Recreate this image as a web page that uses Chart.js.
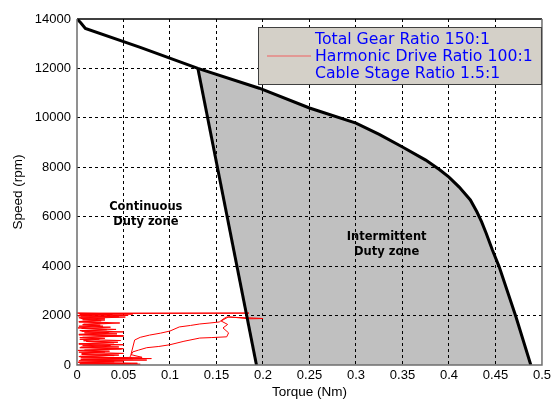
<!DOCTYPE html>
<html>
<head>
<meta charset="utf-8">
<script src="https://cdn.jsdelivr.net/npm/chart.js@4/dist/chart.umd.min.js"></script>
<style>
  html, body { margin: 0; padding: 0; background: #fff; }
  #wrap { width: 554px; height: 402px; }
</style>
</head>
<body>
<div id="wrap"><canvas id="c" width="554" height="402"></canvas></div>
<script>
// --- data ---
const outerTorque = [0, 0.004, 0.009, 0.068, 0.13, 0.196, 0.25, 0.30, 0.325, 0.35, 0.375, 0.39, 0.40, 0.411, 0.423, 0.43, 0.435, 0.44, 0.4467, 0.454, 0.472, 0.488];
const outerSpeed  = [14000, 13850, 13620, 12850, 12000, 11200, 10400, 9790, 9330, 8820, 8290, 7900, 7600, 7200, 6680, 6200, 5800, 5330, 4650, 3970, 1950, 0];

const innerTorque = [0.13, 0.193];
const innerSpeed  = [12000, 0];

// measured duty cycle trace (red)
const traceTorque = [
  0.0, 0.068, 0.003, 0.065, 0.005, 0.04, 0.002, 0.075, 0.006, 0.08, 0.004, 0.07,
  0.058, 0.062, 0.068, 0.078, 0.09, 0.10, 0.11, 0.122, 0.132, 0.143, 0.153, 0.158, 0.161,
  0.19, 0.2, 0.185, 0.163, 0.155, 0.162, 0.157, 0.163, 0.161,
  0.145, 0.132, 0.115, 0.1, 0.088, 0.075, 0.066, 0.06, 0.057, 0.06,
  0.003, 0.04, 0.005, 0.05, 0.002, 0.035, 0.008, 0.048, 0.003, 0.045, 0.006, 0.05,
  0.002, 0.04, 0.01, 0.047, 0.003, 0.03, 0.006, 0.05, 0.002, 0.043, 0.008, 0.05,
  0.003, 0.032, 0.005, 0.036, 0.002, 0.025, 0.007, 0.033, 0.002, 0.026, 0.006, 0.03,
  0.002, 0.045, 0.004, 0.055, 0.003, 0.06, 0.0, 0.185,
  0.002, 0.038, 0.001, 0.052, 0.004, 0.03, 0.002, 0.046, 0.006, 0.028, 0.001, 0.042,
  0.005, 0.034, 0.002, 0.05, 0.003, 0.024, 0.007, 0.044, 0.002, 0.036, 0.004, 0.05,
  0.001, 0.03, 0.005, 0.045, 0.002, 0.055, 0.004, 0.05, 0.001, 0.058, 0.003, 0.052
];
const traceSpeed = [
  0, 30, 50, 70, 100, 130, 170, 200, 230, 260, 290, 310,
  420, 1010, 1120, 1210, 1290, 1375, 1540, 1600, 1660, 1700, 1740, 1880, 1940,
  1900, 1880, 1870, 1950, 1780, 1640, 1500, 1300, 1140,
  1110, 1090, 960, 820, 750, 700, 600, 530, 330, 250,
  350, 380, 420, 470, 520, 560, 600, 650, 700, 730, 780, 820,
  860, 900, 950, 990, 1040, 1080, 1120, 1170, 1220, 1260, 1300, 1340,
  1390, 1430, 1480, 1530, 1570, 1610, 1650, 1700, 1740, 1790, 1830, 1870,
  1910, 1950, 1980, 2010, 2040, 2060, 2100, 2100,
  2080, 2040, 1990, 1940, 1880, 1820, 1760, 1700, 1630, 1570, 1500, 1440,
  1370, 1310, 1240, 1180, 1110, 1050, 980, 920, 850, 790, 720, 660,
  590, 530, 470, 400, 340, 280, 220, 160, 110, 60, 30, 10
];

const legendLines = ["Total Gear Ratio 150:1", "Harmonic Drive Ratio 100:1", "Cable Stage Ratio 1.5:1"];
const xTicks = [0, 0.05, 0.1, 0.15, 0.2, 0.25, 0.3, 0.35, 0.4, 0.45, 0.5];

const pts = (xs, ys) => xs.map((x, i) => ({ x, y: ys[i] }));

// shaded zone: inner line from the bottom up, then the outer envelope down
const k = outerTorque.indexOf(0.13);
const zone = pts(innerTorque.slice().reverse(), innerSpeed.slice().reverse())
  .concat(pts(outerTorque.slice(k), outerSpeed.slice(k)));

const FONT = "'Liberation Sans', Arial, sans-serif";
const WIDE = "'DejaVu Sans', Verdana, sans-serif";

// --- plugin: plot box, zone labels, legend ---
const decor = {
  id: "decor",
  afterDatasetsDraw(chart) {
    const { ctx, chartArea: a, scales: { x, y } } = chart;
    ctx.save();
    // box
    ctx.lineWidth = 1.5;
    ctx.strokeStyle = "#000";
    ctx.beginPath(); ctx.moveTo(a.left, a.top); ctx.lineTo(a.right, a.top); ctx.stroke();
    ctx.strokeStyle = "#6e6e6e";
    ctx.beginPath();
    ctx.moveTo(a.left, a.top); ctx.lineTo(a.left, a.bottom); ctx.lineTo(a.right, a.bottom); ctx.lineTo(a.right, a.top);
    ctx.stroke();

    // zone labels
    ctx.fillStyle = "#000";
    ctx.font = "bold 11.5px " + WIDE;
    ctx.textAlign = "center"; ctx.textBaseline = "middle";
    let cx = x.getPixelForValue(0.074), cy = y.getPixelForValue(6100);
    ctx.fillText("Continuous", cx, cy - 7);
    ctx.fillText("Duty zone", cx, cy + 8);
    cx = x.getPixelForValue(0.333); cy = y.getPixelForValue(4880);
    ctx.fillText("Intermittent", cx, cy - 7);
    ctx.fillText("Duty zone", cx, cy + 8);

    // legend box
    const lx = 258, ly = 27, lw = a.right - 258, lh = 58;
    ctx.fillStyle = "#d4d0c8";
    ctx.fillRect(lx, ly, lw, lh);
    ctx.lineWidth = 1;
    ctx.strokeStyle = "#404040";
    ctx.strokeRect(lx + 0.5, ly + 0.5, lw - 1, lh - 1);
    ctx.strokeStyle = "#f06060";
    ctx.beginPath(); ctx.moveTo(267, 56); ctx.lineTo(311, 56); ctx.stroke();
    ctx.fillStyle = "#0000ff";
    ctx.font = "15.7px " + WIDE;
    ctx.textAlign = "left";
    legendLines.forEach((t, i) => ctx.fillText(t, 315, 40 + i * 17));
    ctx.restore();
  }
};

const gridColor = ctx => (ctx.tick && (ctx.tick.value === 0 || ctx.tick.value === 14000 || ctx.tick.value === 0.5)) ? "rgba(0,0,0,0)" : "#000";

new Chart(document.getElementById("c"), {
  type: "line",
  data: {
    datasets: [
      { data: pts(outerTorque, outerSpeed), borderColor: "#000", borderWidth: 3, pointRadius: 0, tension: 0, order: 1 },
      { data: pts(innerTorque, innerSpeed), borderColor: "#000", borderWidth: 3, pointRadius: 0, tension: 0, order: 1 },
      { data: pts(traceTorque, traceSpeed), borderColor: "#ff0000", borderWidth: 1, pointRadius: 0, tension: 0, order: 2 },
      { data: zone, borderWidth: 0, borderColor: "rgba(0,0,0,0)", backgroundColor: "rgba(0,0,0,0.247)", fill: "shape", pointRadius: 0, tension: 0, order: 3 }
    ]
  },
  options: {
    responsive: false,
    animation: false,
    events: [],
    layout: { padding: { top: 19, right: 11, left: 0, bottom: 0 } },
    plugins: { legend: { display: false }, tooltip: { enabled: false } },
    scales: {
      x: {
        type: "linear", min: 0, max: 0.5,
        afterBuildTicks: s => { s.ticks = xTicks.map(v => ({ value: v })); },
        afterFit: s => { s.height = 37; },
        grid: { color: gridColor, lineWidth: 1, drawTicks: false },
        border: { display: false, dash: [3, 3] },
        ticks: { color: "#000", padding: 3, maxRotation: 0, autoSkip: false, font: { family: FONT, size: 13 },
                 callback: v => String(+v.toFixed(2)) },
        title: { display: true, text: "Torque (Nm)", color: "#000", font: { family: FONT, size: 13.5 }, padding: { top: 0, bottom: 2 } }
      },
      y: {
        min: 0, max: 14000,
        afterFit: s => { s.width = 77; },
        grid: { color: gridColor, lineWidth: 1, drawTicks: false },
        border: { display: false, dash: [3, 3] },
        ticks: { stepSize: 2000, color: "#000", padding: 6, font: { family: FONT, size: 13 }, callback: v => String(v) },
        title: { display: true, text: "Speed (rpm)", color: "#000", font: { family: FONT, size: 13.5 }, padding: { top: 10, bottom: 0 } }
      }
    }
  },
  plugins: [decor]
});
</script>
</body>
</html>
